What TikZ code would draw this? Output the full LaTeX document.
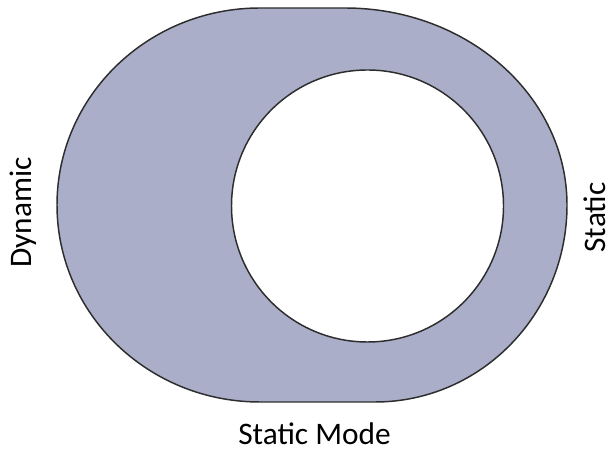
\documentclass[tikz,border=0pt]{standalone}
\usepackage{fontspec}
\setmainfont{Carlito}
\usepackage{tikz}
\definecolor{ringfill}{RGB}{170, 174, 200}
\definecolor{ringline}{RGB}{45, 45, 45}

\begin{document}
\begin{tikzpicture}[
    x=0.75pt, y=0.75pt,
    font=\fontsize{23.5}{28}\selectfont,
    % Define styles
    ring/.style = {draw=ringline, fill=ringfill, line width=1.1pt},
    hole/.style = {draw=ringline, fill=white, line width=1.1pt},
    label/.style = {inner sep=0pt, text=black}
]
\useasboundingbox (0,0) rectangle (616,452);

% Outer shape
\draw [ring] (260,444) -- (345,444)
    arc[start angle=90, end angle=0, x radius=222, y radius=197]
    arc[start angle=0, end angle=-90, x radius=192, y radius=197]
    -- (260,50)
    arc[start angle=270, end angle=90, x radius=203, y radius=197]
    -- cycle;

% Inner circle
\draw [hole] (367.5,246) circle[radius=136];

% Labels
\node [label, rotate=90, anchor=base] (dynamic) at (32,239.5) {Dynamic};
\node [label, rotate=90, anchor=base] (static) at (605,234.5) {Static};
\node [label, anchor=base] (mode) at (314.5,7) {Static Mode};

\end{tikzpicture}
\end{document}
